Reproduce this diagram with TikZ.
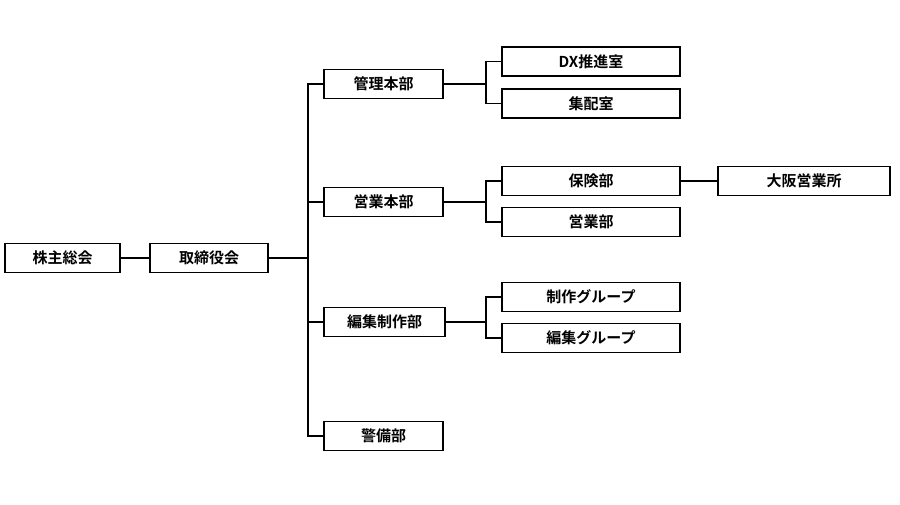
\documentclass[tikz,border=0pt]{standalone}
\usepackage{fontspec}
\setmainfont{Noto Sans CJK JP Bold}
\begin{document}
\begin{tikzpicture}[x=1pt,y=-1pt,line width=1.1pt,
    box/.style={draw,minimum height=29pt,minimum width=#1,inner sep=0pt,font=\fontsize{15}{15}\selectfont}]
  \useasboundingbox (0,0) rectangle (900,504);

  \node[box=115pt] (kabu) at (62.5,258) {株主総会};
  \node[box=118pt] (tori) at (209,258) {取締役会};

  \node[box=119pt] (kanri) at (383.5,84) {管理本部};
  \node[box=119pt] (eigyo) at (383.5,202) {営業本部};
  \node[box=121pt] (hensei) at (384.5,322) {編集制作部};
  \node[box=119pt] (keibi) at (383.5,436) {警備部};

  \node[box=178pt] (dx) at (591,61.5) {DX推進室};
  \node[box=178pt] (shuhai) at (591,103.5) {集配室};
  \node[box=178pt] (hoken) at (591,181) {保険部};
  \node[box=178pt] (eigyobu) at (591,222) {営業部};
  \node[box=178pt] (seisaku) at (591,297) {制作グループ};
  \node[box=178pt] (henshu) at (591,338) {編集グループ};
  \node[box=172pt] (osaka) at (804,181) {大阪営業所};

  \coordinate (trunk) at (308,258);
  \coordinate (branch) at (486,0);

  % main line
  \draw (kabu) -- (tori);
  \draw (tori) -- (trunk);
  \draw (kanri.west) -| (trunk |- keibi.west) -- (keibi.west);
  \draw (eigyo.west) -- (trunk |- eigyo.west);
  \draw (hensei.west) -- (trunk |- hensei.west);

  % sections
  \draw (kanri.east) -- (branch |- kanri.east);
  \draw (dx.west) -| (branch |- dx.west) |- (shuhai.west);
  \draw (eigyo.east) -- (branch |- eigyo.east);
  \draw (hoken.west) -| (branch |- hoken.west) |- (eigyobu.west);
  \draw (hensei.east) -- (branch |- hensei.east);
  \draw (seisaku.west) -| (branch |- seisaku.west) |- (henshu.west);
  \draw (hoken) -- (osaka);
\end{tikzpicture}
\end{document}
